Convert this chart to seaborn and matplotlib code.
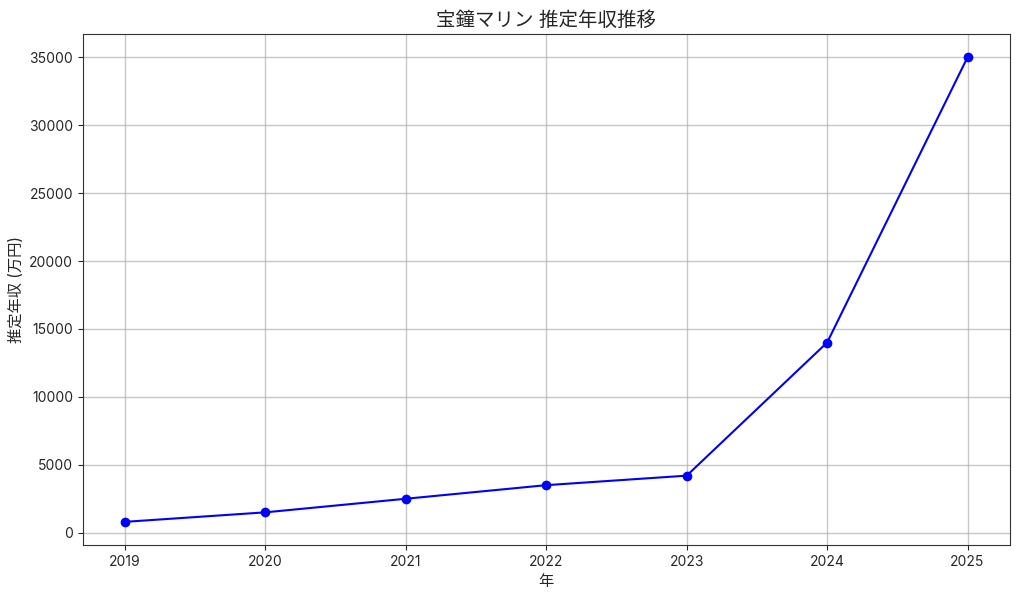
import pandas as pd
import matplotlib
matplotlib.use("Agg")
import matplotlib.pyplot as plt
import seaborn as sns

# -------------------------
# DATA
# -------------------------
years = [2019, 2020, 2021, 2022, 2023, 2024, 2025]
income = [800, 1500, 2500, 3500, 4200, 14000, 35000]

df = pd.DataFrame({"year": years, "income": income})

# -------------------------
# PLOT
# -------------------------
sns.set_style("ticks")
plt.rcParams['font.family'] = ['Inter', 'Noto Sans CJK JP', 'DejaVu Sans']

fig, ax = plt.subplots(figsize=(10.24, 5.97), dpi=100)
sns.lineplot(data=df, x="year", y="income", marker="o", color="blue",
             markersize=7, markeredgewidth=0, linewidth=1.5, ax=ax)

ax.set_title("宝鐘マリン 推定年収推移", fontsize=14)
ax.set_xlabel("年", fontsize=11)
ax.set_ylabel("推定年収 (万円)", fontsize=11)
ax.set_xticks(years)
ax.tick_params(labelsize=10)
ax.grid(True, color="#b0b0b0", alpha=0.7, linewidth=1.0)
for s in ax.spines.values():
    s.set_visible(True)
    s.set_color("#333333")

plt.subplots_adjust(left=0.081, right=0.986, top=0.943, bottom=0.087)
plt.savefig("out.png", dpi=100)
